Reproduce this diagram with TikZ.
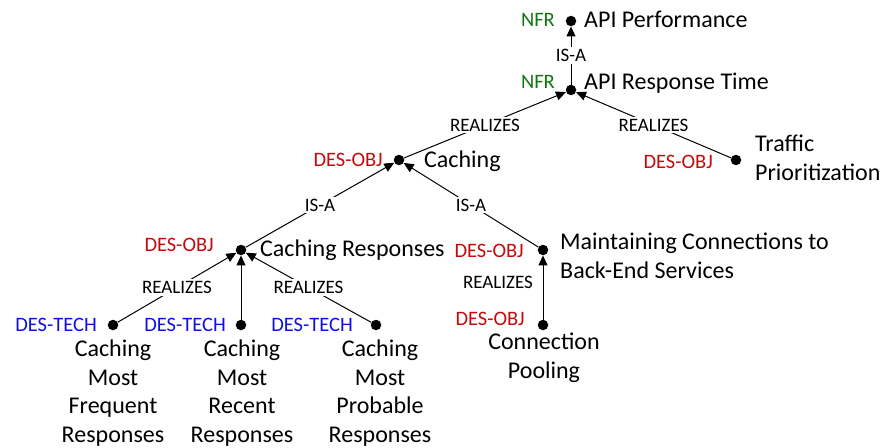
\documentclass[tikz,border=0pt]{standalone}
\usepackage{fontspec}
\setmainfont{Carlito}
\usetikzlibrary{arrows.meta}
\definecolor{nfrgreen}{RGB}{16,118,16}
\definecolor{objred}{RGB}{196,10,10}
\definecolor{techblue}{RGB}{16,16,228}
\begin{document}
\begin{tikzpicture}[x=1pt,y=-1pt,
  dot/.style={circle,fill=black,inner sep=0pt,minimum size=10.5pt},
  lbl/.style={font=\fontsize{24}{28}\selectfont,inner sep=0pt,text height=15.4pt,text depth=0pt},
  block/.style={font=\fontsize{24}{28.5}\selectfont,inner sep=0pt},
  tag/.style={font=\fontsize{20.5}{24}\selectfont,inner sep=0pt,text height=13.2pt,text depth=0pt,anchor=east},
  nfr/.style={tag,text=nfrgreen},
  obj/.style={tag,text=objred},
  tech/.style={tag,text=techblue},
  rel/.style={font=\fontsize{19}{22}\selectfont,fill=white,inner sep=2pt,text height=12.2pt,text depth=0pt},
  link/.style={line width=1pt,-{Triangle[length=10pt,width=9pt]}},
]
\useasboundingbox (0,0) rectangle (883,447);

% goal points
\node[dot] (perf) at (571,21) {};
\node[dot] (resp) at (571,90) {};
\node[dot] (cach) at (399,160) {};
\node[dot] (traf) at (736,160) {};
\node[dot] (cres) at (241,250) {};
\node[dot] (mcon) at (543,250) {};
\node[dot] (t1) at (113,325) {};
\node[dot] (t2) at (241,325) {};
\node[dot] (t3) at (376,325) {};
\node[dot] (pool) at (543,325) {};

% type tags
\node[nfr] (tagperf) at (555,20) {NFR};
\node[nfr] (tagresp) at (555,82) {NFR};
\node[obj] (tagcach) at (383,160) {DES-OBJ};
\node[obj] (tagtraf) at (713,162) {DES-OBJ};
\node[obj] (tagcres) at (214,245) {DES-OBJ};
\node[obj] (tagmcon) at (524,251) {DES-OBJ};
\node[obj] (tagpool) at (525,319) {DES-OBJ};
\node[tech] (tagt1) at (97,325) {DES-TECH};
\node[tech] (tagt2) at (226,325) {DES-TECH};
\node[tech] (tagt3) at (353,325) {DES-TECH};

% names
\node[lbl,anchor=west] (nperf) at (584,20) {API Performance};
\node[lbl,anchor=west] (nresp) at (584,82) {API Response Time};
\node[lbl,anchor=west] (ncach) at (424,160) {Caching};
\node[lbl,anchor=west] (ncres) at (260,249) {Caching Responses};
\node[block,anchor=north west,align=left] (ntraf) at (755,135) {Traffic\\Prioritization};
\node[block,anchor=north west,align=left] (nmcon) at (560,233) {Maintaining Connections to\\Back-End Services};
\node[block,anchor=north,align=center] (npool) at (544,333) {Connection\\Pooling};
\node[block,anchor=north,align=center] (nt1) at (113,340) {Caching\\Most\\Frequent\\Responses};
\node[block,anchor=north,align=center] (nt2) at (242,340) {Caching\\Most\\Recent\\Responses};
\node[block,anchor=north,align=center] (nt3) at (380,340) {Caching\\Most\\Probable\\Responses};

% links
\draw[link] (resp) -- node[rel] {IS-A} (perf);
\draw[link] (cach) -- node[rel] {REALIZES} (resp);
\draw[link] (traf) -- node[rel] {REALIZES} (resp);
\draw[link] (cres) -- node[rel] {IS-A} (cach);
\draw[link] (mcon) -- node[rel] {IS-A} (cach);
\draw[link] (t1) -- node[rel] {REALIZES} (cres);
\draw[link] (t2) -- (cres);
\draw[link] (t3) -- node[rel] {REALIZES} (cres);
\draw[link] (pool) -- (mcon);
\node[rel] (relpool) at (498,282) {REALIZES};
\end{tikzpicture}
\end{document}
